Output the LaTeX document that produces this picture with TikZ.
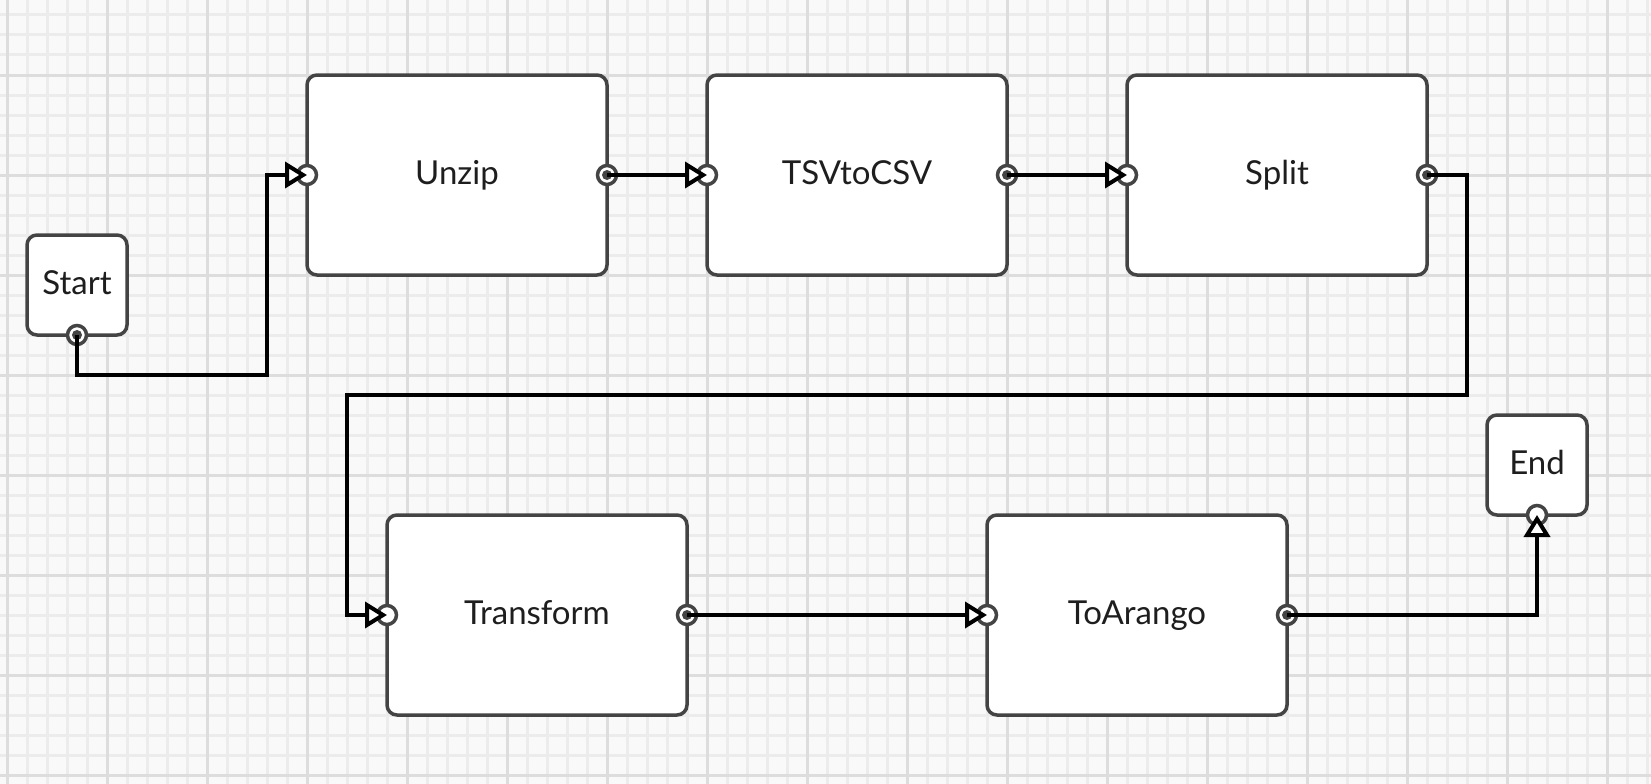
\documentclass[tikz,border=0pt]{standalone}
\usepackage{fontspec}
\setmainfont{Lato}
\usetikzlibrary{arrows.meta}
\definecolor{bg}{HTML}{F9F9F9}
\definecolor{gminor}{HTML}{ECECEC}
\definecolor{gmajor}{HTML}{DDDDDD}
\definecolor{boxc}{HTML}{444444}
\definecolor{txt}{HTML}{1E1E1E}
\tikzset{
  stepbox/.style={draw=boxc, fill=white, line width=3.5pt, rounded corners=10pt,
    minimum width=300pt, minimum height=200pt, outer sep=0pt, inner sep=0pt,
    text height=25pt, text depth=7pt,
    text=txt, font=\fontsize{33}{40}\selectfont},
  termbox/.style={stepbox, minimum width=100pt, minimum height=100pt},
  conn/.style={draw=black, line width=4pt,
    -{Triangle[length=22pt,width=26pt,fill=white,line join=miter]}},
  inport/.style={draw=boxc, fill=white, line width=3.5pt},
  outdot/.style={fill=boxc},
}
\begin{document}
\begin{tikzpicture}[x=1pt,y=-1pt]
\useasboundingbox (0,0) rectangle (1651,784);
\fill[bg] (0,0) rectangle (1651,784);
\foreach \x in {7,27,...,1647} \draw[gminor, line width=3pt] (\x,0) -- (\x,784);
\foreach \y in {15,35,...,775} \draw[gminor, line width=3pt] (0,\y) -- (1651,\y);
\foreach \x in {7,107,...,1607} \draw[gmajor, line width=3pt] (\x,0) -- (\x,784);
\foreach \y in {75,175,...,775} \draw[gmajor, line width=3pt] (0,\y) -- (1651,\y);

\node[termbox] (start) at (77,285) {Start};
\node[stepbox] (unzip) at (457,175) {Unzip};
\node[stepbox] (tsv) at (857,175) {TSVtoCSV};
\node[stepbox] (split) at (1277,175) {Split};
\node[stepbox] (transform) at (537,615) {Transform};
\node[stepbox] (toarango) at (1137,615) {ToArango};
\node[termbox] (end) at (1537,465) {End};

% ports
\foreach \p in {start.south,unzip.east,tsv.east,split.east,transform.east,toarango.east}{
  \draw[inport] (\p) circle (9.5pt);
  \fill[outdot] (\p) circle (5pt);
}
\foreach \p in {unzip.west,tsv.west,split.west,transform.west,toarango.west,end.south}{
  \draw[inport] (\p) circle (9.5pt);
}

\coordinate (b1) at (267,375);
\coordinate (b2) at (1467,395);
\coordinate (b3) at (347,395);

\draw[conn] (start.south) |- (b1) |- (unzip.west);
\draw[conn] (unzip.east) -- (tsv.west);
\draw[conn] (tsv.east) -- (split.west);
\draw[conn] (split.east) -| (b2) -- (b3) |- (transform.west);
\draw[conn] (transform.east) -- (toarango.west);
\draw[conn] (toarango.east) -| (end.south);
\end{tikzpicture}
\end{document}
